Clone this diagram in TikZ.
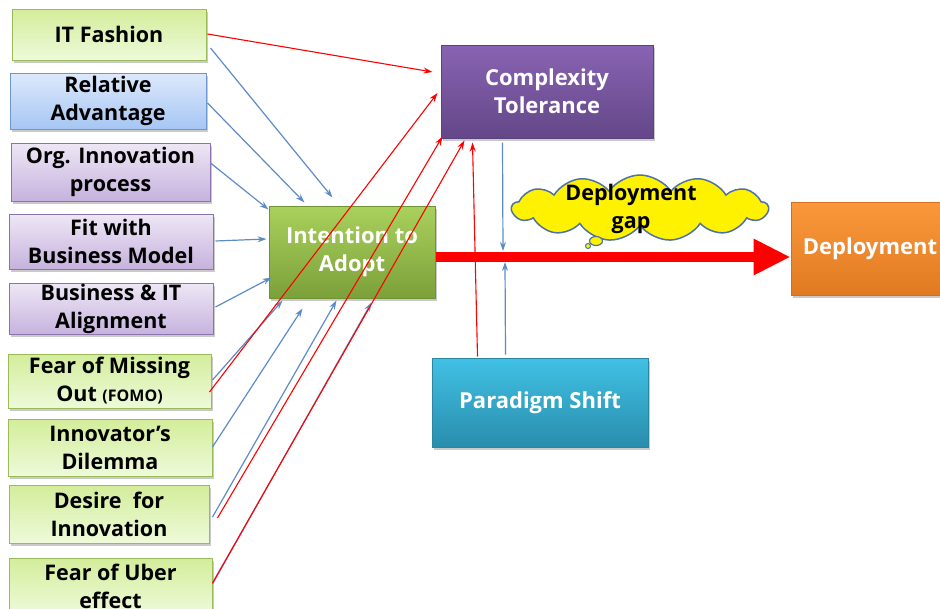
\documentclass[tikz,border=0pt]{standalone}
\usepackage{fontspec}
\setsansfont{Open Sans}
\usetikzlibrary{arrows.meta,shadows,shapes.symbols,shapes.geometric}

\definecolor{gtop}{HTML}{D3ED9A}
\definecolor{gbot}{HTML}{EEFADA}
\definecolor{gline}{HTML}{9BBB59}
\definecolor{btop}{HTML}{DDE9FB}
\definecolor{bbot}{HTML}{A6C6F4}
\definecolor{bline}{HTML}{6F97CF}
\definecolor{ptop}{HTML}{EEE7F5}
\definecolor{pbot}{HTML}{C6B2DE}
\definecolor{pline}{HTML}{8C73AE}
\definecolor{itop}{HTML}{A9D15C}
\definecolor{ibot}{HTML}{7CA03A}
\definecolor{iline}{HTML}{6F9233}
\definecolor{ctop}{HTML}{8963B3}
\definecolor{cbot}{HTML}{634788}
\definecolor{cline}{HTML}{5B4380}
\definecolor{otop}{HTML}{FB983B}
\definecolor{obot}{HTML}{E07A22}
\definecolor{oline}{HTML}{D07020}
\definecolor{stop}{HTML}{40C1E4}
\definecolor{sbot}{HTML}{2A8DAD}
\definecolor{sline}{HTML}{2A86A3}
\definecolor{linkblue}{HTML}{5E8BC8}
\definecolor{linkred}{HTML}{FF0000}
\definecolor{cloudline}{HTML}{4F72A6}

\begin{document}
\begin{tikzpicture}[x=1pt,y=1pt,
  lbl/.style={font=\sffamily\bfseries\fontsize{21.5}{28}\selectfont},
  box/.style={rectangle, line width=1pt, align=center, inner sep=1pt, lbl,
    drop shadow={shadow xshift=2pt, shadow yshift=-2.5pt, opacity=0.35, fill=black!60}},
  gbox/.style={box, draw=gline, top color=gtop, bottom color=gbot},
  bbox/.style={box, draw=bline, top color=btop, bottom color=bbot},
  pbox/.style={box, draw=pline, top color=ptop, bottom color=pbot},
  hub/.style={box, text=white, font=\sffamily\bfseries\fontsize{22}{28}\selectfont},
  bluelink/.style={draw=linkblue, line width=1.2pt, -{Stealth[length=9pt,width=6pt]}},
  redlink/.style={draw=linkred, line width=1.1pt, -{Stealth[length=9pt,width=6pt]}},
]
\useasboundingbox (0,0) rectangle (940,-608);

% factor boxes on the left
\node[gbox, minimum width=194, minimum height=51] (itf)  at (109,-34.5) {IT Fashion};
\node[bbox, minimum width=196, minimum height=56] (rel)  at (108,-101)  {Relative\\Advantage};
\node[pbox, minimum width=199, minimum height=58] (org)  at (110.5,-172) {Org. Innovation\\process};
\node[pbox, minimum width=204, minimum height=55] (fit)  at (111,-241.5) {Fit with\\Business Model};
\node[pbox, minimum width=204, minimum height=50] (bia)  at (111,-309)  {Business \& IT\\Alignment};
\node[gbox, minimum width=203, minimum height=54] (fomo) at (109.5,-381) {Fear of Missing\\Out {\fontsize{16}{28}\selectfont(FOMO)}};
\node[gbox, minimum width=204, minimum height=57] (inn)  at (110,-447.5) {Innovator’s\\Dilemma};
\node[gbox, minimum width=200, minimum height=58] (des)  at (109,-514)  {Desire\ \ for\\Innovation};
\node[gbox, minimum width=203, minimum height=56] (uber) at (110.5,-586) {Fear of Uber\\effect};

% central constructs
\node[hub, draw=iline, top color=itop, bottom color=ibot, minimum width=166, minimum height=92] (int) at (352,-252) {Intention to\\Adopt};
\node[hub, draw=cline, top color=ctop, bottom color=cbot, minimum width=212, minimum height=93] (cx) at (547,-91.5) {Complexity\\Tolerance};
\node[hub, draw=oline, top color=otop, bottom color=obot, minimum width=158, minimum height=93] (dep) at (870,-248.5) {Deployment};
\node[hub, draw=sline, top color=stop, bottom color=sbot, minimum width=216, minimum height=89] (par) at (540,-402.5) {Paradigm Shift};

% the deployment gap
\coordinate (gapstart) at (int.east |- 0,-257);
\coordinate (gapend) at (dep.west |- 0,-257);
\draw[linkred, line width=10pt, -{Triangle[length=37pt,width=34pt]}] (gapstart) -- (gapend);
\coordinate (gaptop) at (503,-251);
\coordinate (gapbot) at (505,-262);

\node[cloud, cloud puffs=13, cloud puff arc=110, aspect=4.2, draw=cloudline, line width=1.5pt,
      fill=yellow, minimum width=256, minimum height=66, inner sep=0pt] (cloud) at (640,-208) {};
\node[lbl, align=center, inner sep=0pt] (gaplbl) at (631,-209) {Deployment\\gap};
\node[ellipse, draw=cloudline, line width=1.2pt, fill=yellow, minimum width=13, minimum height=9, inner sep=0pt] (puff1) at (596,-241) {};
\node[circle, draw=cloudline, line width=1pt, fill=yellow, minimum size=5, inner sep=0pt] (puff2) at (588,-246) {};

% blue influences on intention to adopt
\draw[bluelink] ([shift={(4,-13.5)}]itf.east) -- ([shift={(64,8)}]int.north west);
\draw[bluelink] ([shift={(1,-2)}]rel.east) -- ([shift={(36,3)}]int.north west);
\draw[bluelink] ([shift={(0,9)}]org.east) -- ([shift={(0,-4)}]int.north west);
\draw[bluelink] ([shift={(2,0.5)}]fit.east) -- ([shift={(-2,13)}]int.west);
\draw[bluelink] ([shift={(2,2)}]bia.east) -- ([shift={(3,21)}]int.south west);
\draw[bluelink] ([shift={(1,1)}]fomo.east) -- ([shift={(14,-2)}]int.south west);
\draw[bluelink] ([shift={(0,0.5)}]inn.east) -- ([shift={(34,-10)}]int.south west);
\draw[bluelink] ([shift={(3,-3)}]des.east) -- ([shift={(68,-2)}]int.south west);
\draw[bluelink] ([shift={(0,2)}]uber.east) -- ([shift={(103,-4)}]int.south west);

% red influences on complexity tolerance
\draw[redlink] ([shift={(1,0.5)}]itf.east) -- ([shift={(-8,19.5)}]cx.west);
\draw[redlink] ([shift={(-2,-11)}]fomo.east) -- ([shift={(-3,-1.5)}]cx.west);
\draw[redlink] ([shift={(8,-4)}]des.east) -- ([shift={(2,2)}]cx.south west);
\draw[redlink] ([shift={(0,3)}]uber.east) -- ([shift={(24,-2)}]cx.south west);
\draw[redlink] ([shift={(46,1)}]par.north west) -- ([shift={(32,-4)}]cx.south west);

% links between the gap and the upper and lower constructs
\draw[bluelink] ([shift={(62,-4)}]cx.south west) -- (gaptop);
\draw[bluelink] ([shift={(74,3)}]par.north west) -- (gapbot);
\end{tikzpicture}
\end{document}
